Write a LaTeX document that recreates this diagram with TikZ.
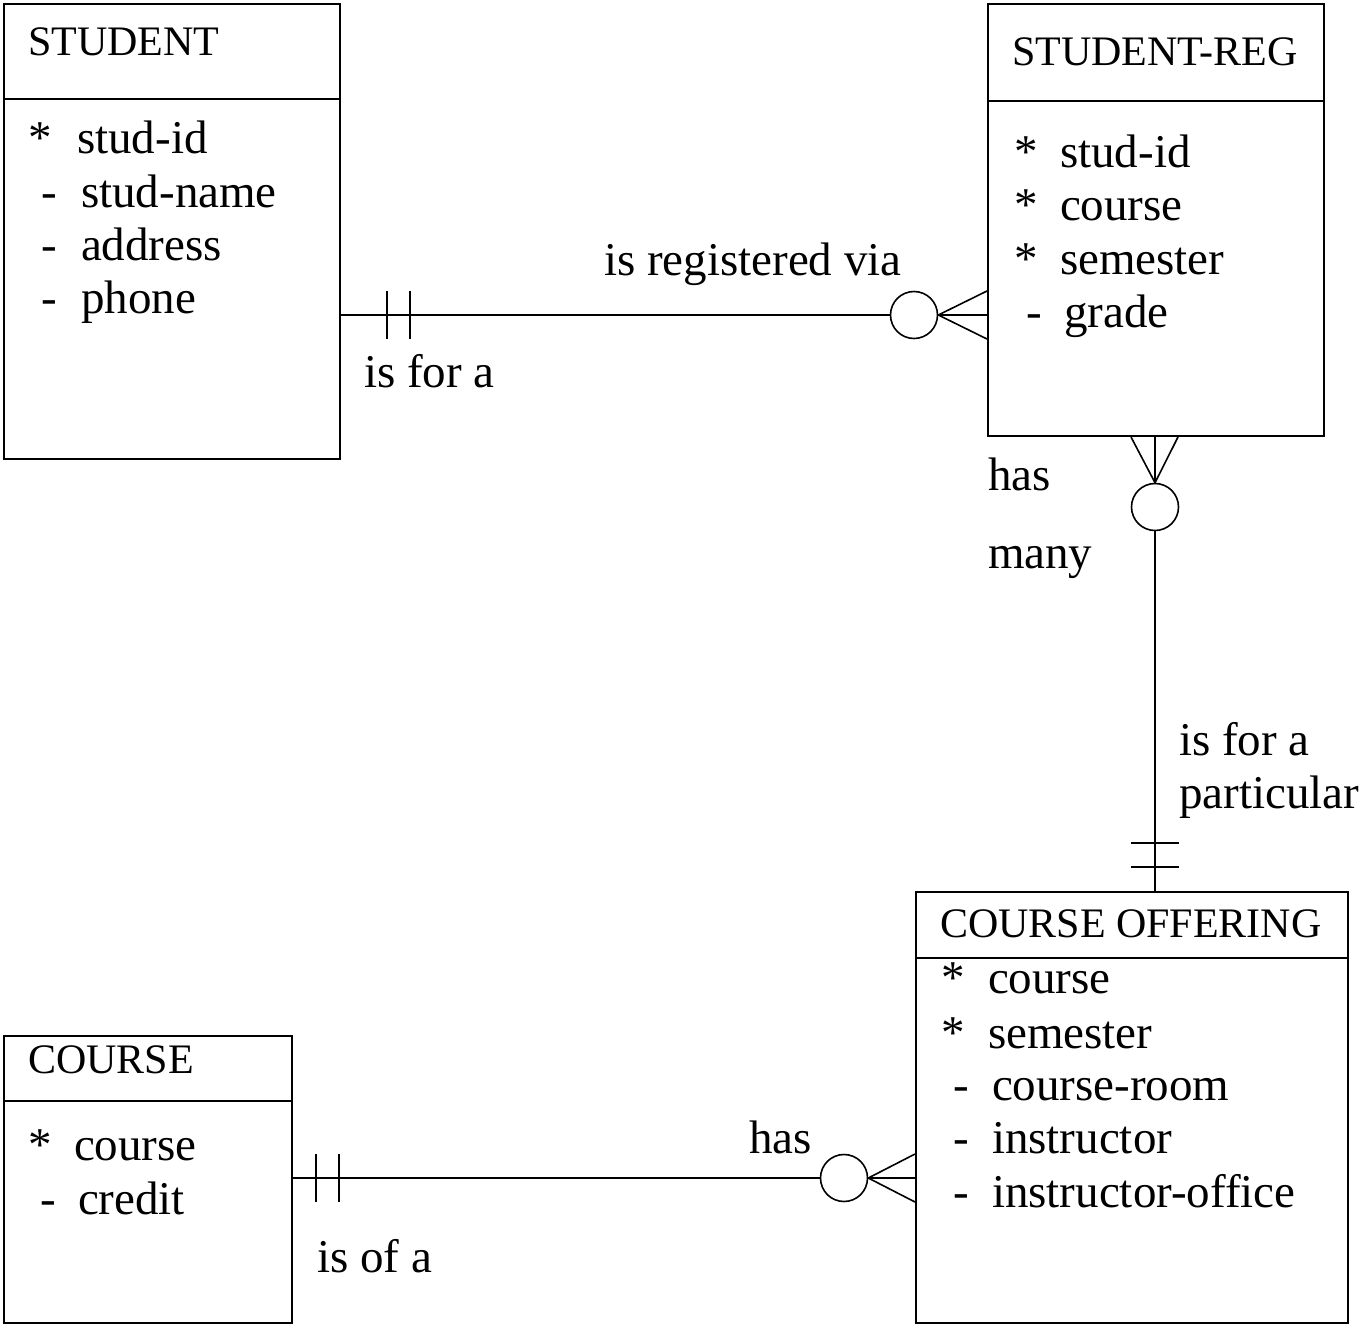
\documentclass[tikz,border=0pt]{standalone}
\usepackage{fontspec}
\setmainfont{Liberation Serif}
\begin{document}
\begin{tikzpicture}[x=1pt,y=-1pt,line width=2pt,
  title/.style={anchor=base west,inner sep=0pt,font=\fontsize{42}{50}\selectfont},
  attr/.style={anchor=base west,inner sep=0pt,font=\fontsize{47}{56}\selectfont},
  ent/.style={draw,line width=2pt,anchor=north west,inner sep=0pt},
  ring/.style={draw,circle,line width=1.6pt,inner sep=0pt,minimum size=47pt},
  link/.style={line width=2pt},
  crow/.style={line width=1.6pt}]
\useasboundingbox (0,0) rectangle (1362,1325);

% ---------- STUDENT ----------
\node[ent,minimum width=336pt,minimum height=455pt] (student) at (3,3) {};
\draw ([yshift=-96pt]student.north west) -- ([yshift=-96pt]student.north east);
\node[title] (studentT) at (27,55) {STUDENT};
\node[attr] (s1m) at (27,153) {*};
\node[attr] (s1) at (76,153) {stud-id};
\node[attr] (s2m) at (40,207) {-};
\node[attr] (s2) at (80,207) {stud-name};
\node[attr] (s3m) at (40,260) {-};
\node[attr] (s3) at (80,260) {address};
\node[attr] (s4m) at (40,313) {-};
\node[attr] (s4) at (80,313) {phone};

% ---------- STUDENT-REG ----------
\node[ent,minimum width=336pt,minimum height=432pt] (reg) at (987,3) {};
\draw ([yshift=-98pt]reg.north west) -- ([yshift=-98pt]reg.north east);
\node[title] (regT) at (1011,65) {STUDENT-REG};
\node[attr] (r1m) at (1013,167) {*};
\node[attr] (r1) at (1059,167) {stud-id};
\node[attr] (r2m) at (1013,220) {*};
\node[attr] (r2) at (1059,220) {course};
\node[attr] (r3m) at (1013,274) {*};
\node[attr] (r3) at (1059,274) {semester};
\node[attr] (r4m) at (1025,327) {-};
\node[attr] (r4) at (1063,327) {grade};

% ---------- COURSE OFFERING ----------
\node[ent,minimum width=432pt,minimum height=431pt] (off) at (915,891) {};
\draw ([yshift=-67pt]off.north west) -- ([yshift=-67pt]off.north east);
\node[title] (offT) at (939,937) {COURSE OFFERING};
\node[attr] (o1m) at (940,993) {*};
\node[attr] (o1) at (987,993) {course};
\node[attr] (o2m) at (940,1048) {*};
\node[attr] (o2) at (987,1048) {semester};
\node[attr] (o3m) at (952,1100) {-};
\node[attr] (o3) at (991,1100) {course-room};
\node[attr] (o4m) at (952,1153) {-};
\node[attr] (o4) at (991,1153) {instructor};
\node[attr] (o5m) at (952,1207) {-};
\node[attr] (o5) at (991,1207) {instructor-office};

% ---------- COURSE ----------
\node[ent,minimum width=288pt,minimum height=287pt] (course) at (3,1035) {};
\draw ([yshift=-66pt]course.north west) -- ([yshift=-66pt]course.north east);
\node[title] (courseT) at (27,1073) {COURSE};
\node[attr] (c1m) at (27,1160) {*};
\node[attr] (c1) at (73,1160) {course};
\node[attr] (c2m) at (39,1214) {-};
\node[attr] (c2) at (77,1214) {credit};

% ---------- rings ----------
\node[ring] (ring1) at (914,315) {};
\node[ring] (ring2) at (1155,507) {};
\node[ring] (ring3) at (844,1178) {};

% ---------- STUDENT -- STUDENT-REG ----------
\draw[link] (student.east |- ring1) -- (ring1.west);
\draw[link] (387,291) -- (387,339);
\draw[link] (410,291) -- (410,339);
\coordinate (k1) at (reg.west |- ring1);
\draw[crow] ([yshift=24pt]k1) -- (ring1.east) -- ([yshift=-24pt]k1);
\draw[crow] (ring1.east) -- (k1);
\node[attr] (lbl1) at (603,275) {is registered via};
\node[attr] (lbl2) at (363,387) {is for a};

% ---------- STUDENT-REG -- COURSE OFFERING ----------
\coordinate (k2) at (reg.south -| ring2);
\draw[crow] ([xshift=-24pt]k2) -- (ring2.north) -- ([xshift=23pt]k2);
\draw[crow] (k2) -- (ring2.north);
\draw[link] (ring2.south) -- (off.north -| ring2);
\draw[link] (1131,843) -- (1179,843);
\draw[link] (1131,867) -- (1179,867);
\node[attr] (lbl3) at (987,490) {has};
\node[attr] (lbl4) at (987,568) {many};
\node[attr] (lbl5) at (1178,755) {is for a};
\node[attr] (lbl6) at (1178,808) {particular};

% ---------- COURSE -- COURSE OFFERING ----------
\draw[link] (course.east |- ring3) -- (ring3.west);
\draw[link] (316,1154) -- (316,1202);
\draw[link] (339,1154) -- (339,1202);
\coordinate (k3) at (off.west |- ring3);
\draw[crow] ([yshift=24pt]k3) -- (ring3.east) -- ([yshift=-24pt]k3);
\draw[crow] (ring3.east) -- (k3);
\node[attr] (lbl7) at (748,1153) {has};
\node[attr] (lbl8) at (316,1272) {is of a};
\end{tikzpicture}
\end{document}
